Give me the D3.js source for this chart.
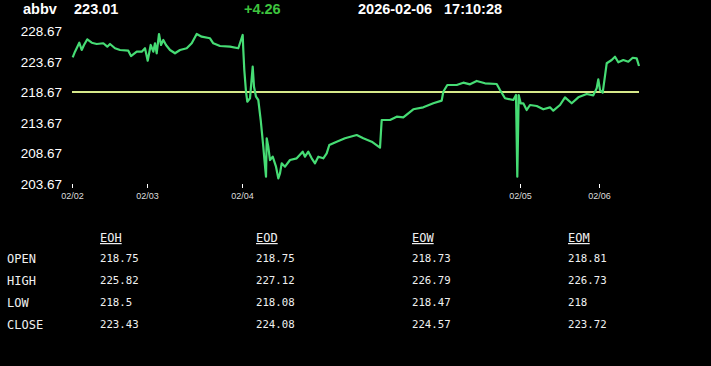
<!DOCTYPE html>
<html>
<head>
<meta charset="utf-8">
<script src="https://cdn.jsdelivr.net/npm/d3@7"></script>
<style>
  body { margin: 0; background: #000; }
  svg { display: block; }
</style>
</head>
<body>
<div id="chart"></div>
<script>
// header values
var symbol = "abbv",
    lastPrice = "223.01",
    change = "+4.26",
    dateStr = "2026-02-06",
    timeStr = "17:10:28";

var prevClose = 218.75;

// intraday series (t = bar index, price)
var times = [0.7, 3, 7.3, 9.7, 12, 15.3, 19.7, 24.7, 31.3, 35.3, 38, 43, 48, 56.3, 59, 64.7, 69.7, 73, 75.7, 78.7,
  81.3, 83, 84.7, 87, 89, 91.3, 94, 98, 103, 108, 114.7, 119.7, 124.7, 129.7, 138, 141.3, 148, 158, 166.3, 169,
  170.7, 171.3, 172.3, 174, 175.3, 178, 180.7, 182, 184, 186.3, 188.7, 191.3, 192.3, 194, 194.7, 196.3, 198, 200.7, 204, 206.3,
  208, 209.7, 213, 218, 224.7, 230.7, 233, 236.3, 239.7, 243, 246.3, 251.3, 254.7, 257.3, 264.7, 273, 284.7, 291.3, 299.7, 308,
  309.7, 318, 324.7, 331.3, 341.3, 351.3, 361.3, 369.7, 371.3, 375.3, 384.7, 391.3, 398, 404.7, 413, 424.7, 428, 433, 441.3, 444,
  445.3, 446.7, 448.7, 451.3, 454.7, 458, 464.7, 471.3, 478, 481.3, 488, 493, 499.7, 506.3, 514.7, 521.3, 524.7, 526.3, 528, 530.7,
  534.7, 539.7, 543, 546.3, 551.3, 556.3, 560.7, 564.7, 567];
var prices = [224.44, 225.36, 226.83, 225.64, 226.46, 227.39, 226.83, 226.62, 226.74, 226.18, 226.62, 225.92, 225.64, 225.52, 224.65, 225.36, 225.36, 225.92, 223.88, 226.46,
  225.36, 226.74, 225.10, 228.26, 226.46, 227.28, 226.46, 225.64, 225.10, 225.64, 225.92, 226.74, 228.26, 227.82, 227.56, 226.74, 226.29, 226.18, 225.92, 227.28,
  228.10, 225.64, 222.36, 218.80, 217.16, 217.72, 222.90, 219.62, 217.98, 217.44, 214.16, 209.78, 207.88, 204.87, 211.16, 209.78, 207.60, 208.15, 206.51, 204.60,
  205.42, 207.06, 206.51, 207.60, 207.88, 208.97, 208.15, 208.97, 207.88, 207.06, 208.15, 207.88, 208.70, 210.06, 210.60, 211.16, 211.70, 211.16, 210.60, 209.62,
  214.16, 214.16, 214.70, 214.60, 215.92, 216.24, 216.90, 217.33, 218.80, 219.90, 219.90, 220.28, 220.01, 220.56, 220.18, 220.06, 219.08, 217.72, 217.44, 218.26,
  204.87, 218.26, 216.90, 216.90, 215.80, 216.62, 216.46, 215.92, 216.24, 215.69, 216.62, 217.88, 216.90, 217.88, 218.42, 218.21, 219.36, 220.83, 219.08, 218.64,
  223.46, 224.00, 224.54, 223.62, 224.00, 223.72, 224.37, 224.27, 223.01];

// axes
var yTicks = [203.67, 208.67, 213.67, 218.67, 223.67, 228.67];
var dayTicks = [0, 75, 170, 448, 527];
var dayLabels = ["02/02", "02/03", "02/04", "02/05", "02/06"];

// stats table
var statCols = ["EOH", "EOD", "EOW", "EOM"];
var statRows = ["OPEN", "HIGH", "LOW", "CLOSE"];
var eoh = ["218.75", "225.82", "218.5", "223.43"];
var eod = ["218.75", "227.12", "218.08", "224.08"];
var eow = ["218.73", "226.79", "218.47", "224.57"];
var eom = ["218.81", "226.73", "218", "223.72"];

var W = 711, H = 366;

var svg = d3.select("#chart")
  .append("svg")
    .attr("width", W)
    .attr("height", H)
    .style("background", "#000");

// header line
var head = svg.append("g")
  .style("font-family", "Arial, 'Liberation Sans', sans-serif")
  .style("font-weight", "bold")
  .style("font-size", "14.5px");
head.append("text").attr("x", 23).attr("y", 14).attr("fill", "#fff").text(symbol);
head.append("text").attr("x", 74).attr("y", 14).attr("fill", "#fff").text(lastPrice);
head.append("text").attr("x", 244).attr("y", 14).attr("fill", "#3ec43e").text(change);
head.append("text").attr("x", 358).attr("y", 14).attr("fill", "#fff").text(dateStr);
head.append("text").attr("x", 444).attr("y", 14).attr("fill", "#fff").text(timeStr);

// scales
var x = d3.scaleLinear()
  .domain([0, 567])
  .range([72, 639]);

var y = d3.scaleLinear()
  .domain([203.67, 228.67])
  .range([184, 31.5]);

// y axis
var yAxis = svg.append("g")
  .attr("transform", "translate(62,0)")
  .call(d3.axisLeft(y).tickValues(yTicks).tickSize(0).tickPadding(0).tickFormat(d3.format(".2f")));
yAxis.select(".domain").remove();
yAxis.selectAll("text")
  .attr("fill", "#fff")
  .style("font-family", "Arial, 'Liberation Sans', sans-serif")
  .style("font-size", "13.5px");

// x axis
var xAxis = svg.append("g")
  .attr("transform", "translate(0,184)")
  .call(d3.axisBottom(x).tickValues(dayTicks).tickSize(4).tickPadding(5)
    .tickFormat(function(d, i) { return dayLabels[i]; }));
xAxis.select(".domain").remove();
xAxis.selectAll("line").attr("stroke", "#fff");
xAxis.selectAll("text")
  .attr("fill", "#ddd")
  .style("font-family", "Arial, 'Liberation Sans', sans-serif")
  .style("font-size", "9px");

// previous close line
svg.append("line")
  .attr("x1", x(0))
  .attr("x2", x(567))
  .attr("y1", y(prevClose))
  .attr("y2", y(prevClose))
  .attr("stroke", "#d6e88a")
  .attr("stroke-width", 2);

// price line
var line = d3.line()
  .x(function(d, i) { return x(times[i]); })
  .y(function(d) { return y(d); });

svg.append("path")
  .datum(prices)
  .attr("fill", "none")
  .attr("stroke", "#46dc74")
  .attr("stroke-width", 2.2)
  .attr("stroke-linejoin", "round")
  .attr("d", line);

// stats table
var colX = [100, 256, 412, 568];
var rowY = [262, 284, 306, 328];
var cols = [eoh, eod, eow, eom];

var tbl = svg.append("g")
  .style("font-family", "'DejaVu Sans Mono', 'Liberation Mono', monospace")
  .attr("fill", "#f0f0f0");

tbl.selectAll(".hdr")
  .data(statCols)
  .enter()
  .append("text")
    .attr("class", "hdr")
    .attr("x", function(d, i) { return colX[i]; })
    .attr("y", 242)
    .style("font-size", "12px")
    .style("text-decoration", "underline")
    .text(function(d) { return d; });

tbl.selectAll(".rlab")
  .data(statRows)
  .enter()
  .append("text")
    .attr("class", "rlab")
    .attr("x", 7)
    .attr("y", function(d, i) { return rowY[i] + 1; })
    .style("font-size", "12px")
    .text(function(d) { return d; });

cols.forEach(function(col, c) {
  tbl.selectAll(".c" + c)
    .data(col)
    .enter()
    .append("text")
      .attr("class", "c" + c)
      .attr("x", colX[c])
      .attr("y", function(d, i) { return rowY[i]; })
      .style("font-size", "10.7px")
      .text(function(d) { return d; });
});
</script>
</body>
</html>
